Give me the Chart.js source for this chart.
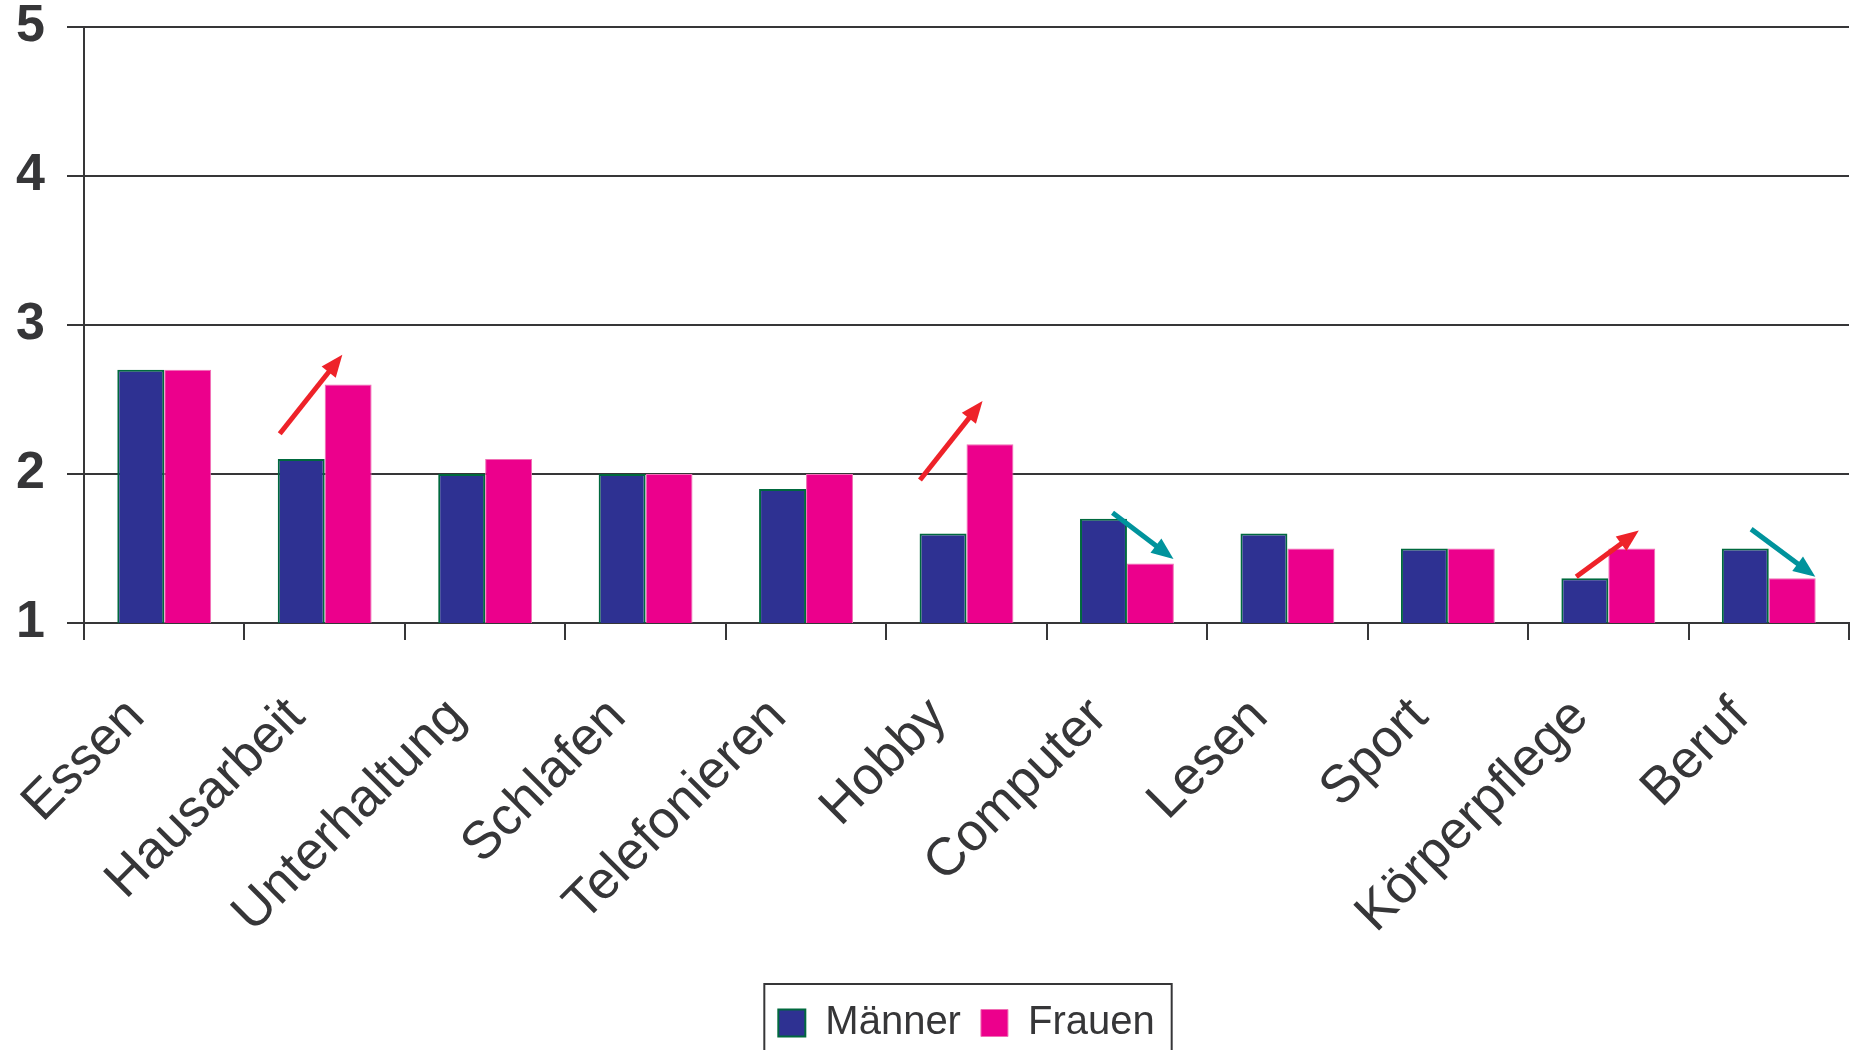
<!DOCTYPE html>
<html>
<head>
<meta charset="utf-8">
<script src="https://cdn.jsdelivr.net/npm/chart.js@4.4.1/dist/chart.umd.min.js"></script>
<style>
  html, body { margin: 0; padding: 0; background: #fff; }
  #wrap { width: 1850px; height: 1050px; }
</style>
</head>
<body>
<div id="wrap"><canvas id="chart" width="1850" height="1050"></canvas></div>
<script>
// Kategorien und Werte
const categories = ['Essen', 'Hausarbeit', 'Unterhaltung', 'Schlafen', 'Telefonieren',
  'Hobby', 'Computer', 'Lesen', 'Sport', 'Körperpflege', 'Beruf'];
const maenner = [2.7, 2.1, 2.0, 2.0, 1.9, 1.6, 1.7, 1.6, 1.5, 1.3, 1.5];
const frauen  = [2.7, 2.6, 2.1, 2.0, 2.0, 2.2, 1.4, 1.5, 1.5, 1.5, 1.3];
const yTicks  = [1, 2, 3, 4, 5];

// Pfeile: Kategorie, Start (Versatz in Kategoriebreiten, Wert), Ende, steigend?
const arrowCats  = [1, 5, 6, 9, 10];
const arrowFrom  = [[-0.28, 2.27], [-0.29, 1.96], [-0.09, 1.74], [-0.20, 1.31], [-0.11, 1.63]];
const arrowTo    = [[0.11, 2.80], [0.10, 2.49], [0.29, 1.43], [0.19, 1.62], [0.29, 1.31]];
const arrowUp    = [true, true, false, true, false];

const INK = '#363638';
const FONT = "'Liberation Sans', Arial, Helvetica, sans-serif";

const arrowPlugin = {
  id: 'arrows',
  afterDatasetsDraw(chart) {
    const { ctx, scales: { x, y } } = chart;
    const catW = x.getPixelForValue(1) - x.getPixelForValue(0);
    ctx.save();
    arrowCats.forEach((c, i) => {
      const cx = x.getPixelForValue(c);
      const x0 = cx + arrowFrom[i][0] * catW, y0 = y.getPixelForValue(arrowFrom[i][1]);
      const x1 = cx + arrowTo[i][0] * catW,   y1 = y.getPixelForValue(arrowTo[i][1]);
      const col = arrowUp[i] ? '#ee2229' : '#00939c';
      const ang = Math.atan2(y1 - y0, x1 - x0);
      const head = 22, hw = 9;
      const bx = x1 - head * Math.cos(ang), by = y1 - head * Math.sin(ang);
      ctx.strokeStyle = col;
      ctx.fillStyle = col;
      ctx.lineWidth = 5;
      ctx.beginPath();
      ctx.moveTo(x0, y0);
      ctx.lineTo(bx + 3 * Math.cos(ang), by + 3 * Math.sin(ang));
      ctx.stroke();
      ctx.beginPath();
      ctx.moveTo(x1, y1);
      ctx.lineTo(bx + hw * Math.sin(ang), by - hw * Math.cos(ang));
      ctx.lineTo(bx - hw * Math.sin(ang), by + hw * Math.cos(ang));
      ctx.closePath();
      ctx.fill();
    });
    ctx.restore();
  }
};

// Rahmen um die Legende
const legendFrame = {
  id: 'legendFrame',
  afterDraw(chart) {
    const hb = chart.legend && chart.legend.legendHitBoxes;
    if (!hb || !hb.length) return;
    const last = hb[hb.length - 1];
    const left = hb[0].left - 14;
    const right = last.left + last.width + 17;
    const top = hb[0].top - 19;
    const ctx = chart.ctx;
    ctx.save();
    ctx.strokeStyle = INK;
    ctx.lineWidth = 2;
    ctx.strokeRect(left, top, right - left, chart.height + 20 - top);
    ctx.restore();
  }
};

new Chart(document.getElementById('chart'), {
  type: 'bar',
  data: {
    labels: categories,
    datasets: [
      {
        label: 'Männer',
        data: maenner,
        backgroundColor: '#2e3192',
        borderColor: '#00693e',
        borderWidth: 2,
        categoryPercentage: 0.585,
        barPercentage: 1.0,
      },
      {
        label: 'Frauen',
        data: frauen,
        backgroundColor: '#ec008c',
        borderColor: '#f06eb4',
        borderWidth: 1,
        categoryPercentage: 0.585,
        barPercentage: 1.0,
      },
    ],
  },
  options: {
    responsive: false,
    animation: false,
    layout: { padding: { top: 27, left: 0, right: 1, bottom: -3 } },
    scales: {
      x: {
        grid: {
          offset: true,
          drawOnChartArea: false,
          drawTicks: true,
          tickLength: 17,
          color: INK,
          lineWidth: 2,
        },
        border: { color: INK, width: 2 },
        ticks: {
          autoSkip: false,
          minRotation: 45,
          maxRotation: 45,
          padding: 46,
          labelOffset: -28,
          color: INK,
          font: { family: FONT, size: 53 },
        },
        afterFit: scale => {
          scale.height = 360;
          scale.paddingLeft = 0;
          scale.paddingRight = 0;
        },
      },
      y: {
        min: 1,
        max: 5,
        afterBuildTicks: scale => { scale.ticks = yTicks.map(v => ({ value: v })); },
        grid: { color: INK, lineWidth: 2, tickLength: 17 },
        border: { color: INK, width: 2 },
        ticks: {
          padding: 22,
          color: INK,
          font: { family: FONT, size: 52, weight: 'bold' },
        },
        afterFit: scale => {
          scale.width = 84;
          scale.paddingTop = 0;
          scale.paddingBottom = 0;
        },
      },
    },
    plugins: {
      legend: {
        position: 'bottom',
        fullSize: false,
        labels: {
          boxWidth: 27,
          boxHeight: 27,
          padding: 20,
          color: INK,
          font: { family: FONT, size: 40 },
        },
      },
      tooltip: { enabled: false },
    },
  },
  plugins: [arrowPlugin, legendFrame],
});
</script>
</body>
</html>
